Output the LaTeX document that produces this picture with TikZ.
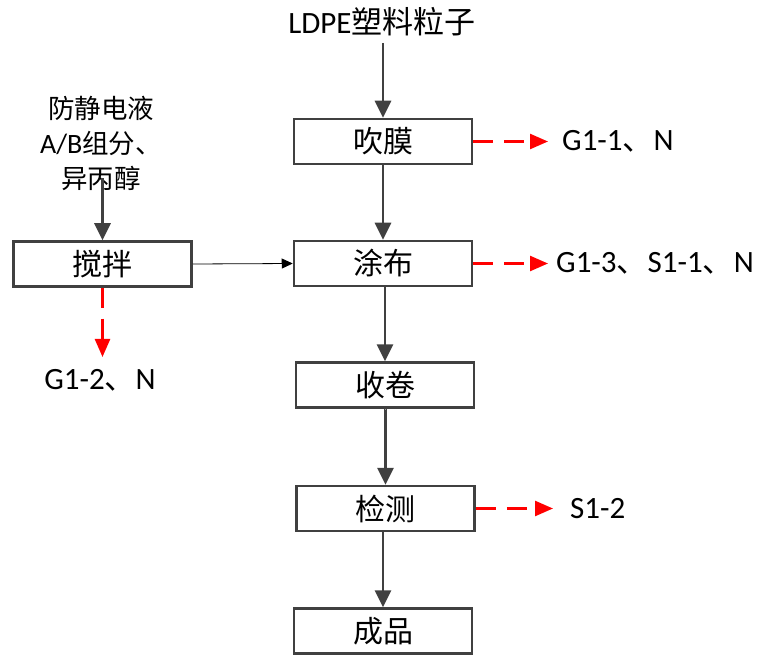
\documentclass[tikz,border=0pt]{standalone}
\usepackage{fontspec}
\setmainfont{Carlito}
\newfontfamily\cjk{Noto Sans CJK SC}
\usetikzlibrary{arrows.meta}
\definecolor{dg}{RGB}{64,64,64}
\definecolor{rd}{RGB}{255,0,0}
\begin{document}
\begin{tikzpicture}[x=1pt,y=-1pt,
  box/.style={draw=dg,line width=2.5pt,minimum width=178pt,minimum height=45pt,inner sep=0pt,font=\fontsize{30}{30}\cjk},
  flow/.style={draw=dg,line width=2.8pt,-{Triangle[length=17pt,width=16pt]}},
  thinarr/.style={draw=black,line width=0.8pt,-{Triangle[length=11pt,width=10pt]}},
  emis/.style={draw=rd,line width=2.5pt,dash pattern=on 20pt off 11pt,-{Triangle[length=18pt,width=15pt]}},
  lbl/.style={font=\fontsize{31}{31}\selectfont,inner sep=0pt}]
\useasboundingbox (0,0) rectangle (761,655);

\node[lbl] (src) at (382,22) {LDPE{\cjk 塑料粒子}};
\node[box] (cm) at (383,141.5) {吹膜};
\node[box] (tb) at (383,263.5) {涂布};
\node[box] (sj) at (385,385) {收卷};
\node[box] (jc) at (385.5,508.5) {检测};
\node[box] (cp) at (383,631) {成品};
\node[box] (jb) at (102.5,264) {搅拌};
\node[inner sep=0pt,align=center,font=\fontsize{26.5}{35}\cjk] (mat) at (101,143)
  {防静电液\\{\fontsize{28}{35}\rmfamily A/B}组分、\\异丙醇};

\node[lbl,anchor=west] (g11) at (562,141) {G1-1{\cjk 、}N};
\node[lbl,anchor=west] (g13) at (556,263.5) {G1-3{\cjk 、}S1-1{\cjk 、}N};
\node[lbl,anchor=west] (s12) at (570,508.5) {S1-2};
\node[lbl] (g12) at (100,380) {G1-2{\cjk 、}N};

\coordinate (s0) at (383,43);
\coordinate (t11) at (548,141.5);
\coordinate (t13) at (548,263.5);
\coordinate (ts2) at (553,508.5);
\coordinate (t12) at (102.5,357);

\draw[flow] (s0) -- (cm.north);
\draw[flow] (cm) -- (tb);
\draw[flow] (sj.north |- tb.south) -- (sj.north);
\draw[flow] (sj) -- (sj.south -| jc.north) -- (jc.north);
\draw[flow] (cp.north |- jc.south) -- (cp.north);
\draw[flow] ([yshift=12pt]mat.south -| jb.north) -- (jb.north);
\draw[thinarr] (jb.east) -- (tb.west);

\draw[emis] (cm.east) -- (t11);
\draw[emis] (tb.east) -- (t13);
\draw[emis] (jc.east) -- (ts2);
\draw[emis] (jb.south) -- (t12);
\end{tikzpicture}
\end{document}
